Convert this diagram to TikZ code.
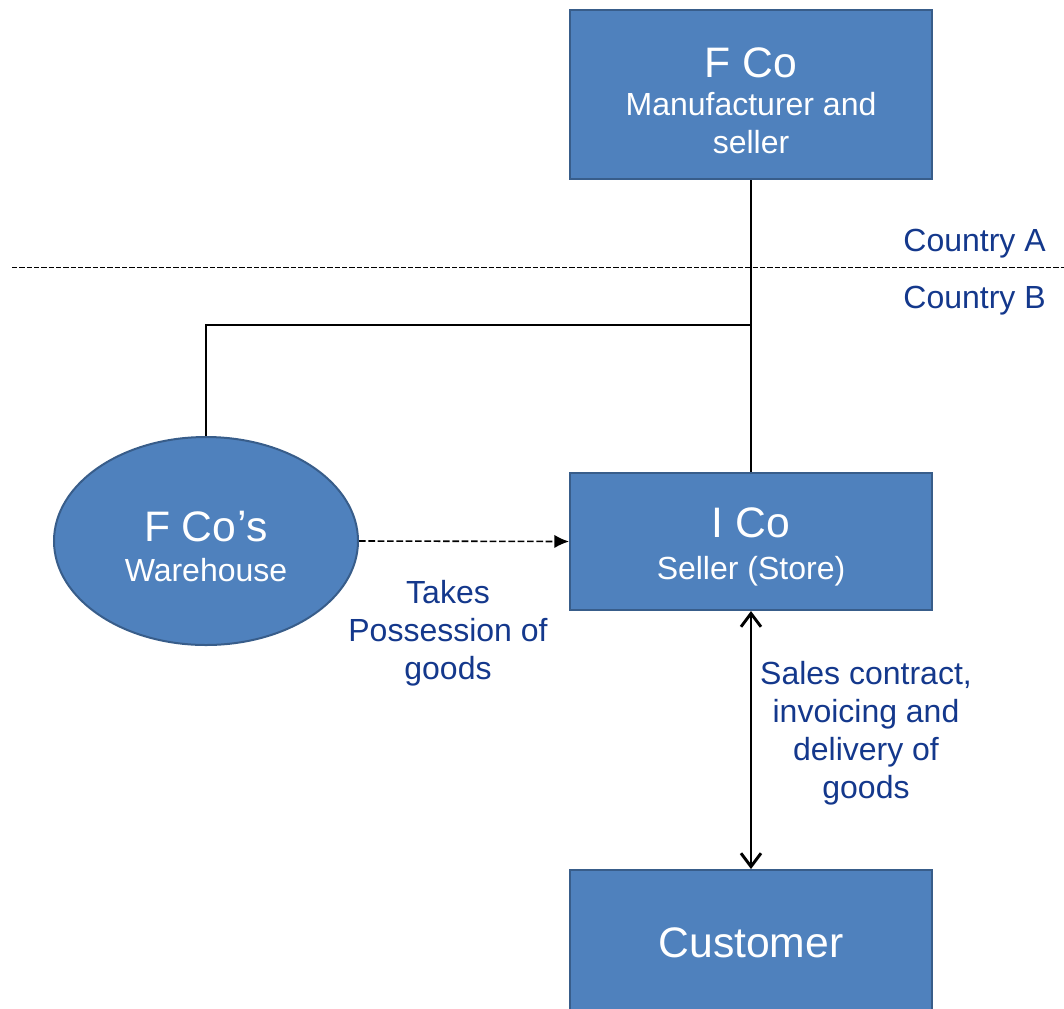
\documentclass[tikz,border=0pt]{standalone}
\usepackage{fontspec}
\setmainfont{Liberation Sans}
\usetikzlibrary{shapes.geometric,arrows.meta}

\definecolor{boxblue}{RGB}{79,129,189}
\definecolor{boxedge}{RGB}{56,93,138}
\definecolor{labelblue}{RGB}{20,56,140}

\newcommand{\bigname}[1]{{\fontsize{32}{28.5}\selectfont\rule{0pt}{31pt}#1}}

\tikzset{
	entity/.style={draw=boxedge, line width=1.5pt, fill=boxblue, text=white, align=center,
		minimum width=271.5pt, inner sep=0pt, font=\fontsize{24}{28.5}\selectfont},
	store/.style={ellipse, draw=boxedge, line width=1.5pt, fill=boxblue, text=white, align=center,
		minimum width=228pt, minimum height=156pt, inner sep=0pt, font=\fontsize{24}{28.5}\selectfont},
	note/.style={text=labelblue, align=center, font=\fontsize{24}{28.5}\selectfont},
	link/.style={line width=1.2pt}
}

\begin{document}
\begin{tikzpicture}[x=0.75pt, y=-0.75pt]
	\useasboundingbox (0,0) rectangle (1064,1008);
	\clip (0,0) rectangle (1064,1008);

	% companies
	\node[entity, minimum height=126.75pt] (fco) at (751,94.5)
		{\bigname{F Co}\\Manufacturer and\\seller};
	\node[entity, minimum height=102.75pt] (ico) at (751,541.5)
		{\bigname{I Co}\\[3pt]Seller (Store)};
	\node[entity, minimum height=109.5pt] (customer) at (751,943)
		{\fontsize{32}{36}\selectfont Customer};
	\node[store] (warehouse) at (206,541)
		{\bigname{F Co\kern0.5pt\raisebox{0.5pt}{'}s}\\[2pt]Warehouse};

	% border between countries
	\coordinate (borderL) at (12,267);
	\coordinate (borderR) at (1064,267);
	\draw[line width=0.7pt, dash pattern=on 4pt off 1.5pt] (borderL) -- (borderR);
	\node[note, anchor=east, inner sep=0pt] (countryA) at (1046,244) {Country A};
	\node[note, anchor=east, inner sep=0pt] (countryB) at (1046,301) {Country B};

	% connections
	\coordinate (junction) at (751,325);
	\draw[link] (fco.south) -- (ico.north);
	\draw[link] (junction) -| (warehouse.north);
	\draw[link, dash pattern=on 5pt off 2pt, -{Latex[length=11pt,width=10pt]}]
		(warehouse.east) -- (ico.west);
	\draw[link, line width=1.5pt, {Straight Barb[length=10pt,width=15pt,line width=2.2pt]}-{Straight Barb[length=10pt,width=15pt,line width=2.2pt]}]
		(ico.south) -- (customer.north);

	% labels
	\node[note] (possession) at (448,633) {Takes\\Possession of\\goods};
	\node[note] (contract) at (866,733) {Sales contract,\\invoicing and\\delivery of\\goods};
\end{tikzpicture}
\end{document}
